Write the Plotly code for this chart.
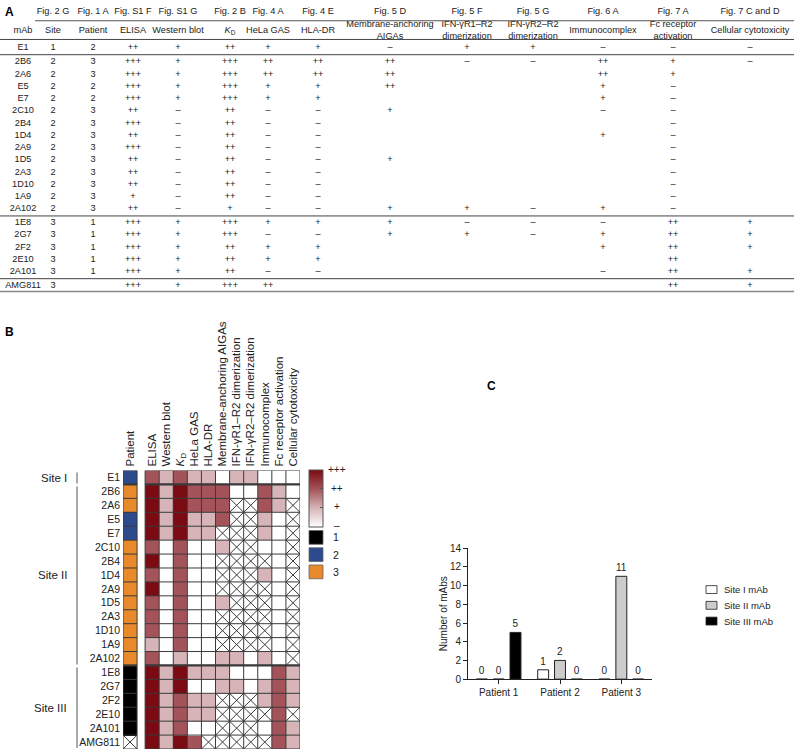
import plotly.graph_objects as go

W, H = 794, 756

# ---------------- data ----------------
mabs = ["E1", "2B6", "2A6", "E5", "E7", "2C10", "2B4", "1D4", "2A9", "1D5", "2A3",
        "1D10", "1A9", "2A102", "1E8", "2G7", "2F2", "2E10", "2A101", "AMG811"]
site = [1, 2, 2, 2, 2, 2, 2, 2, 2, 2, 2, 2, 2, 2, 3, 3, 3, 3, 3, 3]
patient = [2, 3, 3, 2, 2, 3, 3, 3, 3, 3, 3, 3, 3, 3, 1, 1, 1, 1, 1, None]
elisa = ["++", "+++", "+++", "+++", "+++", "++", "+++", "++", "+++", "++", "++", "++", "+", "++",
         "+++", "+++", "+++", "+++", "+++", "+++"]
western = ["+", "+", "+", "+", "+", "–", "–", "–", "–", "–", "–", "–", "–", "–",
           "+", "+", "+", "+", "+", "+"]
kd = ["++", "+++", "+++", "+++", "+++", "++", "++", "++", "++", "++", "++", "++", "++", "+",
      "+++", "+++", "++", "++", "++", "+++"]
hela = ["+", "++", "++", "+", "+", "–", "–", "–", "–", "–", "–", "–", "–", "–",
        "+", "–", "+", "+", "–", "++"]
hla = ["+", "++", "++", "+", "+", "–", "–", "–", "–", "–", "–", "–", "–", "–",
       "+", "–", "+", "+", "–", ""]
membrane = ["–", "++", "++", "++", "", "+", "", "", "", "+", "", "", "", "+",
            "+", "+", "", "", "", ""]
ifn_r1r2 = ["+", "–", "", "", "", "", "", "", "", "", "", "", "", "+",
            "–", "+", "", "", "", ""]
ifn_r2r2 = ["+", "–", "", "", "", "", "", "", "", "", "", "", "", "–",
            "–", "–", "", "", "", ""]
immuno = ["–", "++", "++", "+", "+", "–", "", "+", "", "", "", "", "", "+",
          "–", "+", "+", "", "–", ""]
fc_act = ["–", "+", "+", "–", "–", "–", "–", "–", "–", "–", "–", "–", "–", "–",
          "++", "++", "++", "++", "++", "++"]
cytotox = ["–", "–", "", "", "", "", "", "", "", "", "", "", "", "",
           "+", "+", "+", "", "+", "+"]

fig_refs = ["", "Fig. 2 G", "Fig. 1 A", "Fig. S1 F", "Fig. S1 G", "Fig. 2 B", "Fig. 4 A",
            "Fig. 4 E", "Fig. 5 D", "Fig. 5 F", "Fig. 5 G", "Fig. 6 A", "Fig. 7 A", "Fig. 7 C and D"]
table_headers = ["mAb", "Site", "Patient", "ELISA", "Western blot", "<i>K</i><sub>D</sub>",
                 "HeLa GAS", "HLA-DR", "Membrane-anchoring<br>AIGAs", "IFN-γR1–R2<br>dimerization",
                 "IFN-γR2–R2<br>dimerization", "Immunocomplex", "Fc receptor<br>activation",
                 "Cellular cytotoxicity"]
assay_labels = ["ELISA", "Western blot", "<i>K</i><sub>D</sub>", "HeLa GAS", "HLA-DR",
                "Membrane-anchoring AIGAs", "IFN-γR1–R2 dimerization", "IFN-γR2–R2 dimerization",
                "Immunocomplex", "Fc receptor activation", "Cellular cytotoxicity"]
site_names = {1: "Site I", 2: "Site II", 3: "Site III"}
score_levels = ["–", "+", "++", "+++"]

bar_categories = ["Patient 1", "Patient 2", "Patient 3"]
site1_counts = [0, 1, 0]
site2_counts = [0, 2, 11]
site3_counts = [5, 0, 0]
bar_series = ["Site I mAb", "Site II mAb", "Site III mAb"]

# ---------------- styles ----------------
FONT = "Arial, Liberation Sans, sans-serif"
TXT = "#222222"
GRID = "#3a3a3a"
PAT_COL = {1: "#000000", 2: "#2c4a8c", 3: "#e8892b"}
SCALE = [[0, "#ffffff"], [1 / 3, "#d6b4b7"], [2 / 3, "#a4535a"], [1, "#7a0b12"]]
BAR_FILL = ["#ffffff", "#cccccc", "#000000"]
TFS = 9.2


def px(x):
    return x / W


def py(y):
    return 1 - y / H


fig = go.Figure()

# ---------------- panel A : table ----------------
table_cols = [mabs, [str(s) for s in site], ["" if p is None else str(p) for p in patient],
              elisa, western, kd, hela, hla, membrane, ifn_r1r2, ifn_r2r2, immuno, fc_act, cytotox]
col_x = [23, 53, 93, 133, 178, 230, 268, 318, 390, 467, 533, 603, 673, 750]


def row_y(i):
    return 42 + 12.45 * i + 2.5 * (i >= 1) + 1.5 * (i >= 14) + 1.5 * (i >= 19)


n = len(mabs)


def add_table_text(xs, ys, texts):
    keep = [(a, b, t) for a, b, t in zip(xs, ys, texts) if t]
    fig.add_trace(go.Scatter(x=[k[0] for k in keep], y=[k[1] for k in keep],
                             text=[k[2] for k in keep], mode="text",
                             textfont=dict(size=TFS, color=TXT, family=FONT),
                             xaxis="x3", yaxis="y3", showlegend=False, hoverinfo="skip",
                             cliponaxis=False))


for cx, vals in zip(col_x, table_cols):
    add_table_text([cx] * n, [row_y(i) for i in range(n)], vals)
add_table_text(col_x, [6] * len(col_x), fig_refs)
add_table_text(col_x, [25] * len(col_x), table_headers)

table_lines = [(35, 15, 1, "#555"), (0, 34, 1, "#444"),
               (0, (row_y(0) + row_y(1)) / 2, 1, "#444"),
               (0, (row_y(13) + row_y(14)) / 2, 1, "#444"),
               (0, (row_y(18) + row_y(19)) / 2, 1, "#444"),
               (0, row_y(19) + 6, 1.5, "#888")]
for x0, yy, w, c in table_lines:
    fig.add_shape(type="line", xref="x3", yref="y3", x0=x0, x1=W, y0=yy, y1=yy,
                  line=dict(color=c, width=w))

# ---------------- panel B : heatmap ----------------
assays = [elisa, western, kd, hela, hla, membrane, ifn_r1r2, ifn_r2r2, immuno, fc_act, cytotox]
nc = len(assays)
PC = -1.57  # patient column centre
z = [[(score_levels.index(a[i]) if a[i] else None) for a in assays] for i in range(n)]

CB_TOP, CB_LEN = 471, 57
fig.add_trace(go.Heatmap(z=z, x=list(range(nc)), y=list(range(n)), zmin=0, zmax=3,
                         colorscale=SCALE, xaxis="x2", yaxis="y2", hoverinfo="skip",
                         colorbar=dict(x=px(309), xanchor="left", y=py(CB_TOP), yanchor="top",
                                       len=CB_LEN, lenmode="pixels", thickness=14,
                                       thicknessmode="pixels", xpad=0, ypad=0,
                                       outlinewidth=1, outlinecolor="#555",
                                       tickvals=[0, 1, 2, 3], ticktext=score_levels,
                                       showticklabels=False,
                                       ticks="inside", ticklen=3, tickcolor="#555")))
# colourbar level labels (centred, as in the source)
for v, lab in enumerate(score_levels):
    fig.add_annotation(x=px(337), y=py(CB_TOP + CB_LEN - v * CB_LEN / 3), xref="paper",
                       yref="paper", text=lab, showarrow=False, xanchor="center",
                       yanchor="middle", font=dict(size=10, color=TXT, family=FONT))

fig.add_trace(go.Heatmap(z=[[p] for p in patient], x0=PC, dx=1, y=list(range(n)),
                         zmin=0.5, zmax=3.5, showscale=False, xaxis="x2", yaxis="y2",
                         hoverinfo="skip",
                         colorscale=[[0, PAT_COL[1]], [1 / 3, PAT_COL[1]], [1 / 3, PAT_COL[2]],
                                     [2 / 3, PAT_COL[2]], [2 / 3, PAT_COL[3]], [1, PAT_COL[3]]]))

# grid lines
gx, gy = [], []
for k in range(nc + 1):
    gx += [k - 0.5, k - 0.5, None]
    gy += [-0.5, n - 0.5, None]
for r in range(n + 1):
    gx += [-0.5, nc - 0.5, None]
    gy += [r - 0.5, r - 0.5, None]
for xx in (PC - 0.5, PC + 0.5):
    gx += [xx, xx, None]
    gy += [-0.5, n - 0.5, None]
for r in range(n + 1):
    gx += [PC - 0.5, PC + 0.5, None]
    gy += [r - 0.5, r - 0.5, None]
fig.add_trace(go.Scatter(x=gx, y=gy, mode="lines", line=dict(color=GRID, width=1),
                         xaxis="x2", yaxis="y2", showlegend=False, hoverinfo="skip"))
# group separators
sx, sy = [], []
for i in range(1, n):
    if site[i] != site[i - 1]:
        for a0, a1 in ((-0.5, nc - 0.5), (PC - 0.5, PC + 0.5)):
            sx += [a0, a1, None]
            sy += [i - 0.5, i - 0.5, None]
fig.add_trace(go.Scatter(x=sx, y=sy, mode="lines", line=dict(color=GRID, width=2.2),
                         xaxis="x2", yaxis="y2", showlegend=False, hoverinfo="skip"))
# crosses for untested cells
cx_, cy_ = [], []
for i in range(n):
    for j in range(nc):
        if z[i][j] is None:
            cx_ += [j - 0.5, j + 0.5, None, j - 0.5, j + 0.5, None]
            cy_ += [i - 0.5, i + 0.5, None, i + 0.5, i - 0.5, None]
    if patient[i] is None:
        cx_ += [PC - 0.5, PC + 0.5, None, PC - 0.5, PC + 0.5, None]
        cy_ += [i - 0.5, i + 0.5, None, i + 0.5, i - 0.5, None]
fig.add_trace(go.Scatter(x=cx_, y=cy_, mode="lines", line=dict(color=GRID, width=1),
                         xaxis="x2", yaxis="y2", showlegend=False, hoverinfo="skip"))

# site brackets & labels
ROW0, ROWH = 472, 14.15
groups = []
start = 0
for i in range(1, n + 1):
    if i == n or site[i] != site[start]:
        groups.append((site[start], start, i - 1))
        start = i
for s, a, b in groups:
    y0 = ROW0 + a * ROWH + 2
    y1 = ROW0 + (b + 1) * ROWH - 1
    fig.add_shape(type="line", xref="paper", yref="paper", x0=px(77), x1=px(77),
                  y0=py(y0), y1=py(y1), line=dict(color="#555", width=1))
    fig.add_annotation(x=px(69), y=py((y0 + y1) / 2), xref="paper", yref="paper",
                       text=site_names[s], showarrow=False, xanchor="right", yanchor="middle",
                       font=dict(size=11.5, color=TXT, family=FONT))

# patient legend squares
for k, p in enumerate([1, 2, 3]):
    top = 533 + k * 17.5
    fig.add_shape(type="rect", xref="paper", yref="paper", x0=px(309), x1=px(323),
                  y0=py(top), y1=py(top + 14), fillcolor=PAT_COL[p],
                  line=dict(color="#666", width=0.8))
    fig.add_annotation(x=px(336), y=py(top + 7), xref="paper", yref="paper", text=str(p),
                       showarrow=False, xanchor="center", yanchor="middle",
                       font=dict(size=10.5, color=TXT, family=FONT))

# ---------------- panel C : bars ----------------
for name, vals, fill in zip(bar_series, (site1_counts, site2_counts, site3_counts), BAR_FILL):
    fig.add_trace(go.Bar(name=name, x=bar_categories, y=vals, text=[str(v) for v in vals],
                         textposition="outside", cliponaxis=False,
                         textfont=dict(size=10, color=TXT, family=FONT),
                         marker=dict(color=fill, line=dict(color="#222", width=1)),
                         xaxis="x4", yaxis="y4", hoverinfo="skip", showlegend=False))
# legend key (drawn small, as in the source figure)
for k, (name, fill) in enumerate(zip(bar_series, BAR_FILL)):
    cy = 593 + k * 16
    fig.add_shape(type="rect", xref="paper", yref="paper", x0=px(706), x1=px(717),
                  y0=py(cy - 4), y1=py(cy + 4), fillcolor=fill,
                  line=dict(color="#222", width=0.8))
    fig.add_annotation(x=px(722), y=py(cy), xref="paper", yref="paper", text=name,
                       showarrow=False, xanchor="left", yanchor="middle",
                       font=dict(size=9.5, color=TXT, family=FONT))

# ---------------- panel letters ----------------
for letter, lx, ly in (("A", 3, 6), ("B", 3, 331), ("C", 485, 386)):
    fig.add_annotation(x=px(lx), y=py(ly), xref="paper", yref="paper", text="<b>%s</b>" % letter,
                       showarrow=False, xanchor="left", yanchor="middle",
                       font=dict(size=12, color="#000", family=FONT))

hidden = dict(visible=False, showgrid=False, zeroline=False)
fig.update_layout(
    width=W, height=H, margin=dict(l=0, r=0, t=0, b=0),
    paper_bgcolor="white", plot_bgcolor="rgba(0,0,0,0)",
    font=dict(family=FONT, color=TXT),
    xaxis3=dict(domain=[0, 1], range=[0, W], anchor="y3", **hidden),
    yaxis3=dict(domain=[py(292), 1], range=[292, 0], anchor="x3", **hidden),
    xaxis2=dict(domain=[px(123), px(300)], range=[PC - 0.5, nc - 0.5], anchor="y2",
                side="top", tickangle=-90, tickvals=[PC] + list(range(nc)),
                ticktext=["Patient"] + assay_labels, ticks="", showgrid=False,
                zeroline=False, showline=False, ticklabelstandoff=3,
                tickfont=dict(size=11.5, color=TXT, family=FONT)),
    yaxis2=dict(domain=[py(ROW0 + n * ROWH), py(ROW0)], range=[n - 0.5, -0.5], anchor="x2",
                tickvals=list(range(n)), ticktext=mabs, ticks="", showgrid=False,
                zeroline=False, showline=False, ticklabelstandoff=2,
                tickfont=dict(size=10.5, color=TXT, family=FONT)),
    xaxis4=dict(domain=[px(468), px(652)], anchor="y4", showline=True, linecolor="#222",
                ticks="outside", ticklen=4, tickcolor="#222", showgrid=False,
                tickfont=dict(size=10, color=TXT, family=FONT)),
    yaxis4=dict(domain=[py(684), py(551)], anchor="x4", range=[0, 14], dtick=2,
                showline=True, linecolor="#222", ticks="outside", ticklen=4,
                tickcolor="#222", showgrid=False, zeroline=False,
                title=dict(text="Number of mAbs", font=dict(size=10, color=TXT, family=FONT),
                           standoff=0),
                tickfont=dict(size=10, color=TXT, family=FONT)),
    barmode="group", bargap=0.177, bargroupgap=0.35,
    showlegend=False,
)

fig.write_html("out.html", config={"displayModeBar": False},
               post_script="document.body.style.margin='0';document.body.style.overflow='hidden';")
